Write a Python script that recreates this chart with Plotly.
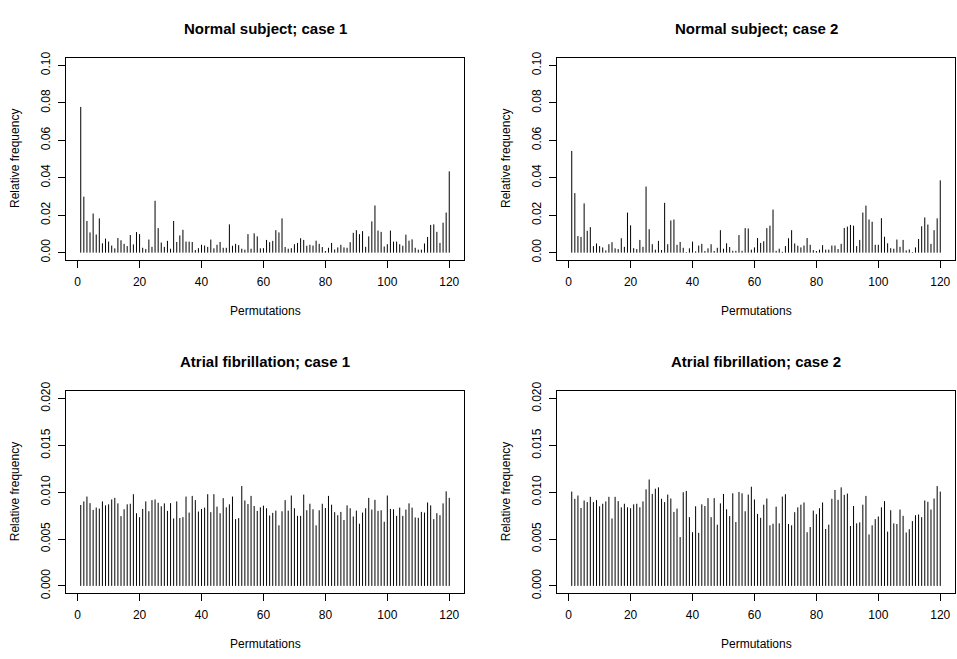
import plotly.graph_objects as go

# Relative frequencies of the 120 ordinal permutation patterns
normal_case1 = [
    0.0778, 0.0299, 0.0169, 0.0108, 0.0209, 0.0097, 0.0183, 0.0050, 0.0075, 0.0059,
    0.0038, 0.0023, 0.0078, 0.0066, 0.0047, 0.0035, 0.0094, 0.0044, 0.0110, 0.0099,
    0.0026, 0.0019, 0.0070, 0.0031, 0.0277, 0.0131, 0.0054, 0.0031, 0.0063, 0.0021,
    0.0169, 0.0057, 0.0092, 0.0122, 0.0059, 0.0059, 0.0057, 0.0014, 0.0024, 0.0042,
    0.0038, 0.0031, 0.0070, 0.0023, 0.0042, 0.0057, 0.0026, 0.0026, 0.0151, 0.0037,
    0.0047, 0.0040, 0.0021, 0.0016, 0.0099, 0.0021, 0.0103, 0.0087, 0.0023, 0.0024,
    0.0068, 0.0056, 0.0063, 0.0120, 0.0108, 0.0183, 0.0030, 0.0021, 0.0024, 0.0045,
    0.0052, 0.0077, 0.0068, 0.0037, 0.0042, 0.0038, 0.0064, 0.0047, 0.0030, 0.0009,
    0.0026, 0.0052, 0.0017, 0.0028, 0.0042, 0.0028, 0.0026, 0.0056, 0.0106, 0.0120,
    0.0099, 0.0115, 0.0031, 0.0087, 0.0167, 0.0252, 0.0118, 0.0111, 0.0033, 0.0045,
    0.0118, 0.0059, 0.0059, 0.0045, 0.0037, 0.0096, 0.0064, 0.0071, 0.0026, 0.0016,
    0.0016, 0.0049, 0.0084, 0.0148, 0.0151, 0.0111, 0.0052, 0.0160, 0.0214, 0.0434,
]

normal_case2 = [
    0.0543, 0.0318, 0.0089, 0.0084, 0.0263, 0.0117, 0.0136, 0.0035, 0.0049, 0.0035,
    0.0028, 0.0012, 0.0045, 0.0056, 0.0023, 0.0019, 0.0077, 0.0031, 0.0214, 0.0146,
    0.0024, 0.0019, 0.0068, 0.0031, 0.0353, 0.0125, 0.0045, 0.0016, 0.0063, 0.0014,
    0.0266, 0.0045, 0.0172, 0.0177, 0.0042, 0.0057, 0.0026, 0.0003, 0.0023, 0.0059,
    0.0007, 0.0038, 0.0047, 0.0009, 0.0023, 0.0045, 0.0009, 0.0026, 0.0120, 0.0021,
    0.0050, 0.0030, 0.0010, 0.0010, 0.0094, 0.0010, 0.0131, 0.0129, 0.0016, 0.0028,
    0.0078, 0.0052, 0.0061, 0.0131, 0.0144, 0.0230, 0.0010, 0.0021, 0.0005, 0.0035,
    0.0077, 0.0120, 0.0049, 0.0037, 0.0028, 0.0038, 0.0078, 0.0042, 0.0014, 0.0009,
    0.0016, 0.0040, 0.0016, 0.0016, 0.0038, 0.0038, 0.0019, 0.0047, 0.0132, 0.0139,
    0.0148, 0.0144, 0.0035, 0.0068, 0.0214, 0.0251, 0.0177, 0.0165, 0.0042, 0.0042,
    0.0184, 0.0085, 0.0050, 0.0024, 0.0021, 0.0070, 0.0031, 0.0068, 0.0012, 0.0017,
    0.0003, 0.0028, 0.0073, 0.0141, 0.0188, 0.0150, 0.0047, 0.0120, 0.0183, 0.0386,
]

af_case1 = [
    0.00864, 0.00902, 0.00954, 0.00884, 0.00811, 0.00836, 0.00825, 0.00902, 0.00860, 0.00871,
    0.00923, 0.00940, 0.00881, 0.00745, 0.00818, 0.00871, 0.00877, 0.00979, 0.00776, 0.00734,
    0.00822, 0.00902, 0.00797, 0.00916, 0.00923, 0.00888, 0.00850, 0.00881, 0.00801, 0.00884,
    0.00720, 0.00902, 0.00724, 0.00734, 0.00954, 0.00783, 0.00961, 0.00916, 0.00794, 0.00822,
    0.00836, 0.00979, 0.00787, 0.00979, 0.00846, 0.00776, 0.00937, 0.00839, 0.00871, 0.00954,
    0.00713, 0.00724, 0.01066, 0.00912, 0.00874, 0.00961, 0.00853, 0.00801, 0.00839, 0.00857,
    0.00829, 0.00752, 0.00780, 0.00804, 0.00647, 0.00797, 0.00916, 0.00804, 0.00965, 0.00829,
    0.00748, 0.00748, 0.00975, 0.00808, 0.00877, 0.00818, 0.00647, 0.00808, 0.00877, 0.00832,
    0.00961, 0.00867, 0.00787, 0.00755, 0.00790, 0.00703, 0.00860, 0.00829, 0.00741, 0.00804,
    0.00664, 0.00783, 0.00829, 0.00940, 0.00815, 0.00919, 0.00801, 0.00808, 0.00685, 0.00965,
    0.00822, 0.00818, 0.00748, 0.00836, 0.00748, 0.00815, 0.00881, 0.00836, 0.00731, 0.00727,
    0.00790, 0.00783, 0.00891, 0.00860, 0.00713, 0.00776, 0.00755, 0.00881, 0.01010, 0.00940,
]

af_case2 = [
    0.01007, 0.00930, 0.00965, 0.00832, 0.00912, 0.00895, 0.00951, 0.00895, 0.00916, 0.00850,
    0.00877, 0.00902, 0.00951, 0.00720, 0.00951, 0.00905, 0.00839, 0.00877, 0.00839, 0.00829,
    0.00871, 0.00877, 0.00839, 0.00902, 0.01031, 0.01136, 0.00982, 0.01038, 0.01052, 0.00930,
    0.00895, 0.00975, 0.00933, 0.00790, 0.00825, 0.00521, 0.01000, 0.01014, 0.00734, 0.00573,
    0.00850, 0.00566, 0.00871, 0.00853, 0.00937, 0.00734, 0.00937, 0.00654, 0.00881, 0.00982,
    0.00818, 0.00745, 0.00989, 0.00682, 0.01003, 0.00989, 0.00797, 0.00975, 0.01059, 0.00923,
    0.00769, 0.00727, 0.00867, 0.00933, 0.00647, 0.00664, 0.00846, 0.00668, 0.00954, 0.00979,
    0.00661, 0.00647, 0.00787, 0.00839, 0.00867, 0.00891, 0.00573, 0.00629, 0.00804, 0.00766,
    0.00829, 0.00891, 0.00608, 0.00654, 0.00930, 0.01024, 0.00919, 0.01052, 0.00972, 0.00986,
    0.00640, 0.00853, 0.00668, 0.00678, 0.00867, 0.00961, 0.00549, 0.00647, 0.00713, 0.00741,
    0.00839, 0.00905, 0.00580, 0.00808, 0.00668, 0.00661, 0.00815, 0.00748, 0.00570, 0.00605,
    0.00692, 0.00755, 0.00762, 0.00734, 0.00912, 0.00898, 0.00815, 0.00933, 0.01066, 0.01007,
]

titles = [
    "Normal subject; case 1",
    "Normal subject; case 2",
    "Atrial fibrillation; case 1",
    "Atrial fibrillation; case 2",
]
x_tick_values = [0, 20, 40, 60, 80, 100, 120]
y_ticks_normal = [0.00, 0.02, 0.04, 0.06, 0.08, 0.10]
y_ticks_af = [0.000, 0.005, 0.010, 0.015, 0.020]

W, H = 957, 659
FONT = "Liberation Sans, Arial, Helvetica, sans-serif"

# Plot boxes in pixels: (left, right, top, bottom)
boxes = [
    (66, 464, 50, 257),
    (557, 955, 50, 257),
    (66, 464, 391, 598),
    (557, 955, 391, 598),
]


def px_x(p):
    return p / W


def px_y(p):
    return 1 - p / H


def spikes(values):
    """Vertical lines from zero up to each value (histogram-like spikes)."""
    xs, ys = [], []
    for i, v in enumerate(values, start=1):
        xs += [i, i, None]
        ys += [0, v, None]
    return xs, ys


series = [normal_case1, normal_case2, af_case1, af_case2]
yticks = [y_ticks_normal, y_ticks_normal, y_ticks_af, y_ticks_af]
yfmt = [".2f", ".2f", ".3f", ".3f"]

fig = go.Figure()
annotations = []
for i, (vals, box) in enumerate(zip(series, boxes)):
    idx = "" if i == 0 else str(i + 1)
    n = len(vals)
    x_pad = (n - 1) * 0.04
    xs, ys = spikes(vals)
    fig.add_trace(go.Scatter(
        x=xs, y=ys, mode="lines",
        line=dict(color="black", width=1),
        xaxis="x" + idx, yaxis="y" + idx,
        showlegend=False, hoverinfo="skip",
    ))
    left, right, top, bottom = box
    ymax = yticks[i][-1]
    y_pad = ymax * 0.04
    axis_common = dict(
        showgrid=False, zeroline=False, showline=True, mirror=True,
        linecolor="black", linewidth=1, ticks="outside", ticklen=7,
        tickwidth=1, tickcolor="black",
        tickfont=dict(family=FONT, size=12, color="black"),
    )
    fig.update_layout(**{
        "xaxis" + idx: dict(
            domain=[px_x(left), px_x(right)],
            anchor="y" + idx,
            range=[1 - x_pad, n + x_pad],
            tickmode="array", tickvals=x_tick_values,
            ticklabelstandoff=3,
            **axis_common,
        ),
        "yaxis" + idx: dict(
            domain=[px_y(bottom), px_y(top)],
            anchor="x" + idx,
            range=[-y_pad, ymax + y_pad],
            tickmode="array", tickvals=yticks[i],
            tickformat=yfmt[i], tickangle=-90,
            ticklabelstandoff=3,
            **axis_common,
        ),
    })
    cx = (left + right) / 2
    cy = (top + bottom) / 2
    annotations.append(dict(
        text="<b>" + titles[i] + "</b>", x=px_x(cx), y=px_y(top - 30),
        xref="paper", yref="paper", showarrow=False,
        xanchor="center", yanchor="middle",
        font=dict(family=FONT, size=15, color="black"),
    ))
    annotations.append(dict(
        text="Permutations", x=px_x(cx), y=px_y(bottom + 52),
        xref="paper", yref="paper", showarrow=False,
        xanchor="center", yanchor="middle",
        font=dict(family=FONT, size=12, color="black"),
    ))
    annotations.append(dict(
        text="Relative frequency", x=px_x(left - 51), y=px_y(cy),
        xref="paper", yref="paper", showarrow=False, textangle=-90,
        xanchor="center", yanchor="middle",
        font=dict(family=FONT, size=12, color="black"),
    ))

fig.update_layout(
    width=W, height=H,
    margin=dict(l=0, r=0, t=0, b=0),
    paper_bgcolor="white", plot_bgcolor="white",
    annotations=annotations,
)

fig.write_html("out.html")
